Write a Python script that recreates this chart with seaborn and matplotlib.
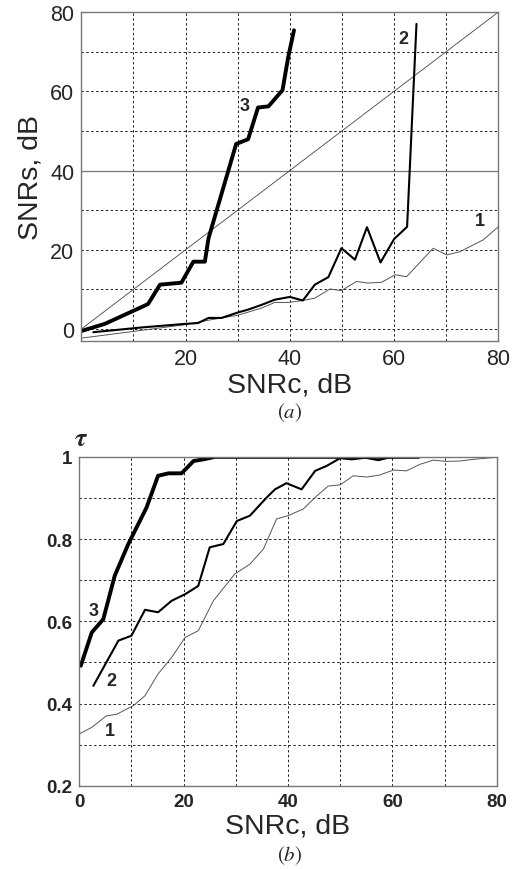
import numpy as np
import pandas as pd
import matplotlib
matplotlib.use("Agg")
import matplotlib.pyplot as plt
import seaborn as sns

# - Data
"---------------------------------------------------------------------------"

# (a) output SNR vs input SNR
diag_x = [0, 80]
diag_y = [0, 80]

a1_x = [0, 10, 19.9, 24.7, 30.1, 34.6, 37.1, 39.7, 42.5, 44.8, 47.7, 49.9, 52.8,
        55, 57.6, 60.2, 62.4, 67.5, 70.1, 72.6, 77.1, 80]
a1_y = [-2.3, -0.6, 1.1, 2.3, 3.5, 5.3, 6.7, 6.7, 7.2, 7.8, 10.1, 9.7, 12,
        11.6, 11.8, 13.7, 13.2, 20.4, 18.7, 19.5, 22.5, 25.8]

a2_x = [2.3, 11.6, 19.9, 22.4, 24.4, 26.9, 30.1, 32, 34.6, 37.1, 40, 42.5, 44.8,
        47.4, 49.9, 52.5, 54.8, 57.4, 60, 62.5, 64.3]
a2_y = [-0.8, 0.4, 1.3, 1.5, 2.8, 2.8, 4.2, 4.9, 6.1, 7.4, 8.1, 7.2, 11.2,
        13.1, 20.4, 17.5, 25.7, 16.8, 22.7, 25.8, 77]

a3_x = [0, 4.5, 9, 12.8, 15.1, 19.2, 21.5, 23.7, 24.4, 29.7, 32, 33.9, 35.9,
        38.6, 39.7, 40.8]
a3_y = [-0.5, 1.3, 4, 6.3, 11.2, 11.7, 17, 17, 22.9, 46.7, 47.9, 55.9, 56.2,
        60.3, 68.7, 75.4]

# (b) tau vs input SNR
b1_x = [0, 2.4, 5.2, 7.2, 10.4, 12.6, 15.1, 17.7, 20.3, 22.8, 25.7, 29.8, 32.7,
        35.3, 37.8, 40, 42.9, 45.5, 47.7, 50, 52.5, 55.1, 57.6, 60.2, 62.7,
        65.3, 67.8, 70.4, 73, 75.5, 78.1, 80]
b1_y = [0.326, 0.342, 0.370, 0.374, 0.395, 0.419, 0.472, 0.512, 0.561, 0.577,
        0.650, 0.715, 0.739, 0.776, 0.849, 0.857, 0.873, 0.905, 0.929, 0.932,
        0.954, 0.951, 0.956, 0.968, 0.966, 0.982, 0.992, 0.989, 0.990, 0.994,
        0.997, 0.999]

b2_x = [2.7, 7.5, 10, 12.6, 15.1, 17.7, 20.3, 22.8, 25, 27.6, 30.2, 32.7, 35.9,
        37.5, 39.7, 42.6, 45.2, 47.4, 50, 52.2, 54.8, 57.3, 59.2, 60, 65]
b2_y = [0.443, 0.553, 0.565, 0.628, 0.622, 0.65, 0.666, 0.686, 0.780, 0.788,
        0.844, 0.857, 0.901, 0.921, 0.936, 0.921, 0.966, 0.978, 0.997, 0.994,
        0.998, 0.992, 0.998, 1.0, 1.0]

b3_x = [0.3, 2.4, 4.6, 6.8, 9.4, 12.9, 15.1, 17.1, 19.6, 21.9, 23.8, 26, 65]
b3_y = [0.492, 0.573, 0.605, 0.711, 0.788, 0.877, 0.954, 0.960, 0.960, 0.990,
        0.994, 1.0, 1.0]

# - Plot settings
"---------------------------------------------------------------------------"

sns.set_style("white")
plt.rcParams['font.family'] = ['Liberation Sans', 'DejaVu Sans']
plt.rcParams['mathtext.fontset'] = 'stix'

grid_kw = dict(color='#222222', linestyle=(0, (2.5, 2.5)), linewidth=0.7)


def style_axes(ax, size, weight):
    for sp in ax.spines.values():
        sp.set_color('#777777')
        sp.set_linewidth(1.0)
    ax.tick_params(length=0, labelsize=size, pad=5)
    for lab in ax.get_xticklabels() + ax.get_yticklabels():
        lab.set_fontweight(weight)
    ax.grid(True, **grid_kw)
    ax.set_axisbelow(True)


def curve(ax, x, y, lw, color='black'):
    sns.lineplot(x=x, y=y, ax=ax, color=color, linewidth=lw, sort=False,
                 estimator=None)


fig = plt.figure(figsize=(5.18, 8.70), dpi=100)

#%%
# - (a)
"---------------------------------------------------------------------------"

ax1 = fig.add_axes([0.157, 0.607, 0.805, 0.378])
curve(ax1, diag_x, diag_y, 0.6, '#444444')
curve(ax1, a1_x, a1_y, 0.7, '#555555')
curve(ax1, a2_x, a2_y, 1.5)
curve(ax1, a3_x, a3_y, 2.8)

ax1.set_xlim(0, 80)
ax1.set_ylim(-3, 79.7)
ax1.set_xticks(range(0, 81, 10))
ax1.set_xticklabels(['', '', '20', '', '40', '', '60', '', '80'])
ax1.set_yticks(range(0, 81, 10))
ax1.set_yticklabels(['0', '', '20', '', '40', '', '60', '', '80'])
style_axes(ax1, 15.5, 'normal')
for gl, v in zip(ax1.get_ygridlines(), range(0, 81, 10)):
    if v == 40:
        gl.set_linestyle('-')
        gl.set_color('#777777')
        gl.set_linewidth(0.9)

ax1.set_xlabel('SNRc, dB', fontsize=20.5, labelpad=2)
ax1.set_ylabel('SNRs, dB', fontsize=20.5, labelpad=5)
ax1.text(31.4, 56.5, '3', fontsize=13, fontweight='bold', ha='center', va='center')
ax1.text(61.7, 73.4, '2', fontsize=13, fontweight='bold', ha='center', va='center')
ax1.text(76.5, 27.5, '1', fontsize=13, fontweight='bold', ha='center', va='center')
fig.text(0.56, 0.526, r'$(\mathit{a})$', fontsize=15, ha='center', va='center')

#%%
# - (b)
"---------------------------------------------------------------------------"

ax2 = fig.add_axes([0.153, 0.0957, 0.806, 0.378])
curve(ax2, b1_x, b1_y, 0.7, '#555555')
curve(ax2, b2_x, b2_y, 1.5)
curve(ax2, b3_x, b3_y, 2.8)

ax2.set_xlim(0, 80)
ax2.set_ylim(0.2, 1.0)
ax2.set_xticks(range(0, 81, 10))
ax2.set_xticklabels(['0', '', '20', '', '40', '', '60', '', '80'])
ax2.set_yticks(np.round(np.arange(0.2, 1.01, 0.1), 1))
ax2.set_yticklabels(['0.2', '', '0.4', '', '0.6', '', '0.8', '', '1'])
style_axes(ax2, 13.5, 'bold')

ax2.set_xlabel('SNRc, dB', fontsize=20.5, labelpad=2)
ax2.text(0.3, 1.045, r'$\boldsymbol{\tau}$', fontsize=19, ha='center', va='center')
ax2.text(2.7, 0.626, '3', fontsize=13, fontweight='bold', ha='center', va='center')
ax2.text(6.2, 0.455, '2', fontsize=13, fontweight='bold', ha='center', va='center')
ax2.text(5.9, 0.334, '1', fontsize=13, fontweight='bold', ha='center', va='center')
fig.text(0.56, 0.016, r'$(\mathit{b})$', fontsize=15, ha='center', va='center')

fig.savefig('out.png', dpi=100)
